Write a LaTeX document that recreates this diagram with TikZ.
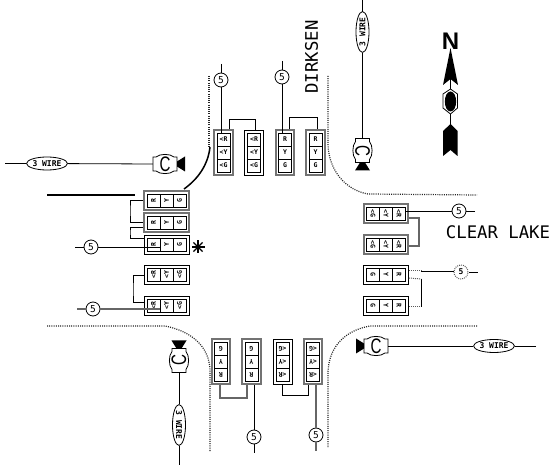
\documentclass[tikz,border=0pt]{standalone}
\usepackage{fontspec}
\setmainfont{DejaVu Sans Mono}
\newfontfamily\sansb{Liberation Sans}
\usetikzlibrary{shapes.geometric}
\tikzset{
  wire/.style={draw=black,line width=0.8pt},
  graywire/.style={draw=black!60,line width=1.1pt},
  heavy/.style={draw=black,line width=1.5pt},
  dotwire/.style={draw=black!65,line width=1pt,dash pattern=on 0.9pt off 1.1pt},
  curb/.style={draw=black!85,line width=1.2pt,dash pattern=on 1pt off 1.2pt},
  headblack/.style={draw=black,line width=0.9pt,fill=white,minimum width=19pt,minimum height=45pt,inner sep=0pt},
  headgray/.style={draw=black!55,line width=1.6pt,fill=white,minimum width=18.5pt,minimum height=44.5pt,inner sep=0pt},
  cell/.style={draw=black,line width=0.8pt,minimum width=13pt,minimum height=13pt,inner sep=0pt,font=\fontsize{6.5}{6.5}\selectfont\bfseries},
  num/.style={circle,draw=black,line width=0.8pt,fill=white,minimum size=14pt,inner sep=0pt,font=\fontsize{9.5}{9.5}\selectfont},
  dotnum/.style={circle,draw=black!65,line width=1pt,dash pattern=on 0.9pt off 1.1pt,fill=white,minimum size=14pt,inner sep=0pt,font=\fontsize{8}{8}\selectfont\bfseries},
  oval/.style={ellipse,draw=black,line width=0.8pt,fill=white,minimum width=40pt,minimum height=13pt,inner sep=0pt,font=\fontsize{8}{8}\selectfont\bfseries},
  camletter/.style={inner sep=0pt,font=\sansb\fontsize{21}{21}\selectfont},
  bigtext/.style={inner sep=0pt,font=\fontsize{17.3}{17.3}\selectfont}
}
\newcommand{\sighead}[8]{%
  \begin{scope}[shift={(#3,#4)},rotate=#5,transform shape]
    \node[#2] (#1) at (0,0) {};
    \node[cell] (#1-a) at (0,-13) {#6};
    \node[cell] (#1-b) at (0,0) {#7};
    \node[cell] (#1-c) at (0,13) {#8};
  \end{scope}}
\newcommand{\camunit}[5]{%
  \begin{scope}[shift={(#2,#3)},rotate=#4,transform shape]
    \draw[line width=0.8pt,fill=white] (-12,7) -- (-9,7) .. controls (-5,10.5) and (5,10.5) .. (9,7) -- (12,7) -- (12,-7) -- (9,-7) .. controls (5,-10.5) and (-5,-10.5) .. (-9,-7) -- (-12,-7) -- cycle;
    \fill[black] (12,-2.5) -- (12,2.5) -- (20,7.5) -- (20,-7.5) -- cycle;
    \node[minimum width=24pt,minimum height=14pt,inner sep=0pt,rotate=#5] (#1) at (0,0) {};
    \node[camletter,rotate=#5,xscale=0.72] (#1-t) at (0,0) {C};
  \end{scope}}
\begin{document}
\begin{tikzpicture}[x=1pt,y=-1pt]
\useasboundingbox (0,0) rectangle (555,465);
\fill[white] (0,0) rectangle (555,465);
% curbs
\draw[curb] (209,76) -- (209,147);
\draw[curb] (328,76) -- (328,145) .. controls (329,170) and (345,190) .. (368,194) -- (477,195);
\draw[curb] (477,326) -- (370,326) .. controls (347,330) and (329,345) .. (328,372) -- (328,448);
\draw[curb] (47,326) -- (165,326) .. controls (190,331) and (209,345) .. (210,370) -- (210,452);
% signal heads
\sighead{H1}{headgray}{223.5}{152.5}{0}{<R}{<Y}{<G}
\sighead{H2}{headblack}{254}{152.5}{0}{<R}{<Y}{<G}
\sighead{H3}{headgray}{285}{152.5}{0}{R}{Y}{G}
\sighead{H4}{headgray}{315.5}{152.5}{0}{R}{Y}{G}
\sighead{W1}{headgray}{166.5}{200.5}{90}{R}{Y}{G}
\sighead{W2}{headgray}{166.5}{222.5}{90}{R}{Y}{G}
\sighead{W3}{headblack}{166.5}{244.5}{90}{R}{Y}{G}
\sighead{W4}{headblack}{166.5}{275}{90}{<R}{<Y}{<G}
\sighead{W5}{headblack}{166.5}{305.5}{90}{<R}{<Y}{<G}
\sighead{E1}{headgray}{386}{213.5}{-90}{<R}{<Y}{<G}
\sighead{E2}{headgray}{386}{244.5}{-90}{<R}{<Y}{<G}
\sighead{E3}{headblack}{386}{274.5}{-90}{R}{Y}{G}
\sighead{E4}{headblack}{386}{305.5}{-90}{R}{Y}{G}
\sighead{S1}{headgray}{221}{361.5}{180}{R}{Y}{G}
\sighead{S2}{headgray}{251.5}{361.5}{180}{R}{Y}{G}
\sighead{S3}{headblack}{282.5}{361.5}{180}{<R}{<Y}{<G}
\sighead{S4}{headgray}{313}{361.5}{180}{<R}{<Y}{<G}
% cameras
\camunit{CW}{165}{164}{0}{0}
\camunit{CN}{362.5}{150.5}{-90}{0}
\camunit{CE}{376}{346}{180}{180}
\camunit{CS}{179}{360.5}{90}{0}
% ovals
\node[oval] (OW) at (47,163.5) {3 WIRE};
\node[oval,rotate=90] (ON) at (362.5,32) {3 WIRE};
\node[oval] (OE) at (494,346) {3 WIRE};
\node[oval,rotate=-90] (OS) at (179,425) {3 WIRE};
\coordinate (eW) at (5,163.5);
\coordinate (eN) at (362.5,0);
\coordinate (eE) at (536,346);
\coordinate (eS) at (179,465);
\draw[wire] (eW) -- (OW);
\draw[wire] (OW) -- (CW.west);
\draw[wire] (eN) -- (ON);
\draw[wire] (ON) -- (CN.west);
\draw[wire] (eE) -- (OE);
\draw[wire] (OE) -- (CE.east);
\draw[wire] (eS) -- (OS);
\draw[wire] (OS) -- (CS.west);
% numbered circles
\node[num] (N1) at (221,80) {5};
\node[num] (N2) at (282,77) {5};
\node[num] (N3) at (91,247) {5};
\node[num] (N4) at (93,309) {5};
\node[num] (N5) at (459,211) {5};
\node[dotnum] (N6) at (461,272) {5};
\node[num] (N7) at (254,437) {5};
\node[num] (N8) at (316,435) {5};
\coordinate (f1) at (221,64);
\coordinate (f2) at (282,61);
\coordinate (f3) at (75,247);
\coordinate (f4) at (77,309);
\coordinate (f5) at (475,211);
\coordinate (f6) at (478,272);
\coordinate (f7) at (254,453);
\coordinate (f8) at (316,451);
% north wires
\draw[wire] (f1) -- (N1);
\draw[wire] (N1) -- (N1 |- H1-a.north);
\draw[wire] (f2) -- (N2);
\draw[wire] (N2) -- (N2 |- H3-a.north);
\coordinate (b1) at (229,119);
\coordinate (b1r) at (255,119);
\draw[wire] (b1 |- H1.north) -- (b1) -- (b1r) -- (b1r |- H2.north);
\coordinate (b2) at (289,117);
\coordinate (b2r) at (317,117);
\draw[wire] (b2 |- H3.north) -- (b2) -- (b2r) -- (b2r |- H4.north);
% west wires
\coordinate (bw1) at (130,210);
\draw[wire] (W1.north) -| (bw1) |- (W2.north);
\coordinate (bw2) at (130,232);
\draw[wire] ([yshift=-4.5pt]W2.north) -| (bw2) |- ([yshift=6.5pt]W3.north);
\draw[wire] (f3) -- (N3);
\draw[wire] (N3) -- (N3 -| W3-a.south);
\coordinate (bw3) at (133,290);
\draw[wire] (W4.north) -| (bw3) |- ([yshift=3.5pt]W5.north);
\draw[graywire] (f4) -- (N4);
\draw[graywire] (N4) -- (N4 -| W5-a.south);
% east wires
\draw[wire] (f5) -- (N5);
\draw[wire] (N5) -- (N5 -| E1-a.north);
\coordinate (be1) at (419,230);
\draw[graywire] ([yshift=-4.5pt]E1.north) -| (be1) |- ([yshift=-1.5pt]E2.north);
\coordinate (d3) at (421,271);
\coordinate (d4) at (421,279);
\coordinate (d5) at (421,307);
\draw[dotwire] ([yshift=-3.5pt]E3.north) -- (d4);
\draw[dotwire] (E3.north |- d3) -- (d3);
\draw[dotwire] (E4.north |- d5) -- (d5);
\draw[wire] (d3) -- (N6.west |- d3);
\draw[wire] (d4) -- (d5);
\draw[wire] (N6) -- (f6);
% south wires
\coordinate (bs1) at (220,398);
\coordinate (bs1r) at (247,398);
\draw[graywire] (bs1 |- S1.north) -- (bs1) -- (bs1r) -- (bs1r |- S2.north);
\coordinate (bs2) at (282,395);
\coordinate (bs2r) at (308,395);
\draw[wire] (bs2 |- S3.north) -- (bs2) -- (bs2r) -- (bs2r |- S4.north);
\draw[wire] (N7 |- S2.north) -- (N7);
\draw[wire] (N7) -- (f7);
\draw[graywire] (N8 |- S4.north) -- (N8);
\draw[graywire] (N8) -- (f8);
% heavy lines
\coordinate (h1) at (47,195);
\coordinate (h2) at (135,195);
\draw[heavy] (h1) -- (h2);
\coordinate (h3) at (184,189);
\coordinate (h4) at (210,147);
\draw[heavy] (h3) .. controls (198,179) and (208,165) .. (h4);
% star
\coordinate (star) at (198,247);
\foreach \a in {0,45,90,135} \draw[black,line width=1.3pt] ([shift={(\a:6.5pt)}]star) -- ([shift={(\a+180:6.5pt)}]star);
% labels
\node[bigtext] (clear) at (498,232.5) {CLEAR LAKE};
\node[bigtext,rotate=90] (dirksen) at (311.5,57) {DIRKSEN};
% north arrow
\node[inner sep=0pt,font=\sansb\bfseries\fontsize{24}{24}\selectfont] (north) at (450.5,41) {N};
\fill[black] (450.5,48) -- (458,85) -- (450.5,79) -- (443,85) -- cycle;
\draw[black,line width=1.5pt] (450.5,79) -- (450.5,125);
\draw[black,line width=0.8pt,fill=white] (450.5,89) -- (457.5,94) -- (457.5,108) -- (450.5,114) -- (443,108) -- (443,94) -- cycle;
\fill[black] (450.5,91.5) .. controls (458,92) and (458,111) .. (450.5,111.5) .. controls (443,111) and (443,92) .. (450.5,91.5) -- cycle;
\fill[black] (450.5,124) -- (457.5,131) -- (457.5,156) -- (450.5,150) -- (443,156) -- (443,131) -- cycle;
\end{tikzpicture}
\end{document}
